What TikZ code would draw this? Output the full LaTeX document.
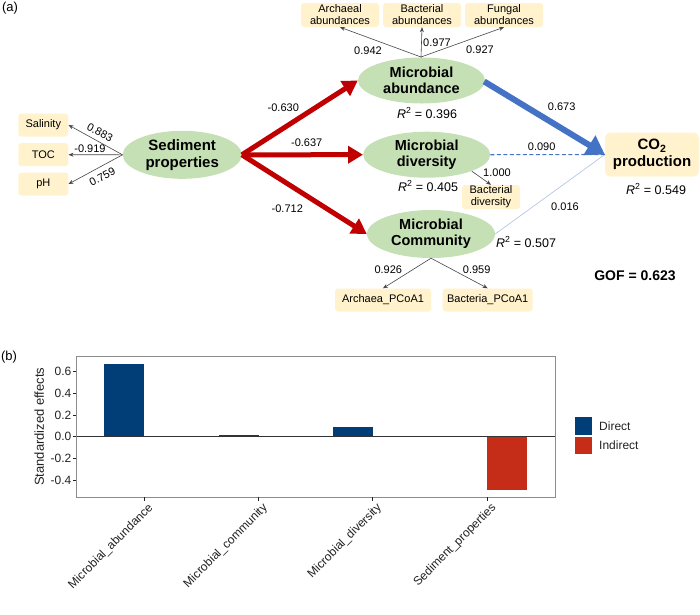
\documentclass[tikz,border=0pt]{standalone}
\usepackage{fontspec}
\setmainfont{Liberation Sans}
\usetikzlibrary{arrows.meta,shapes.geometric,calc}
\definecolor{boxY}{HTML}{FFF2CC}
\definecolor{latG}{HTML}{C5E0B4}
\definecolor{redA}{HTML}{C00000}
\definecolor{blueA}{HTML}{4472C4}
\definecolor{blueL}{HTML}{B4C7E7}
\definecolor{barB}{HTML}{013E78}
\definecolor{barR}{HTML}{C52D19}
\definecolor{lineG}{HTML}{454545}
\definecolor{txtG}{HTML}{222222}
\begin{document}
\begin{tikzpicture}[x=1pt,y=-1pt,
  ind/.style={rounded corners=3pt, fill=boxY, draw=none, align=center, inner sep=0pt,
    font=\fontsize{11}{12}\selectfont, minimum height=24pt},
  lat/.style={ellipse, fill=latG, draw=none, align=center, inner sep=0pt,
    font=\bfseries\fontsize{14.5}{16}\selectfont, minimum width=127pt, minimum height=46pt},
  lab/.style={inner sep=0pt, font=\fontsize{11}{12}\selectfont},
  rsq/.style={inner sep=0pt, font=\fontsize{12.5}{14}\selectfont},
  thinarr/.style={draw=lineG, line width=0.6pt, -{Stealth[length=5pt,width=4pt]}},
  redarr/.style={draw=redA, line width=5pt, -{Triangle[length=15pt,width=17pt]}},
  tick/.style={draw=txtG, line width=0.6pt},
  axl/.style={inner sep=0pt, text=txtG, font=\fontsize{12}{13}\selectfont}
]
\useasboundingbox (0,0) rectangle (700,614);

% ---------------- panel (a) ----------------
\node[inner sep=0pt, font=\fontsize{13}{14}\selectfont] (pa) at (10,8) {(a)};

\node[ind, minimum width=78pt] (arch) at (340,15) {Archaeal\\abundances};
\node[ind, minimum width=78pt] (bact) at (422,15) {Bacterial\\abundances};
\node[ind, minimum width=78pt] (fung) at (504,15) {Fungal\\abundances};

\node[ind, minimum width=50pt, minimum height=23pt] (sal) at (43.3,125) {Salinity};
\node[ind, minimum width=50pt, minimum height=23pt] (toc) at (43.3,154.7) {TOC};
\node[ind, minimum width=50pt, minimum height=23pt] (ph) at (43.3,184) {pH};

\node[lat, minimum width=119pt, minimum height=48pt, font=\bfseries\fontsize{15}{17}\selectfont] (sed) at (182.2,154.8) {Sediment\\properties};
\node[lat] (abund) at (421.5,80.5) {Microbial\\abundance};
\node[lat] (div) at (426.7,154.7) {Microbial\\diversity};
\node[lat, minimum width=128pt, minimum height=48pt] (comm) at (431,234) {Microbial\\Community};

\node[ind, minimum width=58pt] (bdiv) at (491,197) {Bacterial\\diversity};
\node[ind, minimum width=96pt, minimum height=23pt] (archp) at (383,300) {Archaea\_PCoA1};
\node[ind, minimum width=90pt, minimum height=23pt] (bactp) at (487.7,300) {Bacteria\_PCoA1};

\node[rounded corners=5pt, fill=boxY, align=center, inner sep=0pt, minimum width=94pt, minimum height=44pt,
  font=\bfseries\fontsize{15}{17}\selectfont] (co2) at (652,154.5) {CO\textsubscript{2}\\production};

% R2 labels
\node[rsq] (r1) at (427,113) {\textit{R}\textsuperscript{2} = 0.396};
\node[rsq] (r2) at (428,186) {\textit{R}\textsuperscript{2} = 0.405};
\node[rsq] (r3) at (526,242) {\textit{R}\textsuperscript{2} = 0.507};
\node[rsq] (r4) at (656,189) {\textit{R}\textsuperscript{2} = 0.549};
\node[inner sep=0pt, font=\bfseries\fontsize{14}{16}\selectfont] (gof) at (635,276) {GOF = 0.623};

% indicator arrows
\coordinate (topo) at (421,57);
\draw[draw=lineG, line width=0.6pt] (abund.north) -- (topo);
\draw[thinarr] (topo) -- (arch.south);
\draw[thinarr] (topo) -- (bact.south);
\draw[thinarr] (topo) -- (fung.south);
\node[lab] (l942) at (368,50.7) {0.942};
\node[lab] (l977) at (437,42.3) {0.977};
\node[lab] (l927) at (480,49.3) {0.927};

\draw[thinarr] (sed.west) -- (sal.east);
\draw[thinarr] (sed.west) -- (toc.east);
\draw[thinarr] (sed.west) -- (ph.east);
\node[lab, rotate=-28] (l883) at (100,132.7) {0.883};
\node[lab] (l919) at (90,148.5) {-0.919};
\node[lab, rotate=28] (l759) at (102.3,176.5) {0.759};

\draw[thinarr] (div.south east) -- (bdiv.north);
\node[lab] (l1000) at (497,172.7) {1.000};

\draw[thinarr] (comm.south) -- (archp.north);
\draw[thinarr] (comm.south) -- (bactp.north);
\node[lab] (l926) at (388.3,270) {0.926};
\node[lab] (l959) at (476.7,270) {0.959};

% structural paths
\draw[redarr] (sed.east) -- (abund.west);
\draw[redarr] (sed.east) -- (div.west);
\draw[redarr] (sed.east) -- (comm.west);
\node[lab] (l630) at (283.3,107.3) {-0.630};
\node[lab] (l637) at (306.7,142.7) {-0.637};
\node[lab] (l712) at (287.3,208.3) {-0.712};

\draw[blueL, line width=0.7pt] (comm.east) -- (co2.west);
\draw[blueA, line width=1.1pt, dash pattern=on 4pt off 2.5pt] (div.east) -- (co2.west);
\draw[blueA, line width=6pt, -{Triangle[length=18pt,width=22pt]}] ($(abund.east)+(-1,1)$) -- (co2.west);
\node[lab] (l673) at (561.7,106.7) {0.673};
\node[lab] (l090) at (541.7,146.7) {0.090};
\node[lab] (l016) at (565,206.7) {0.016};

% ---------------- panel (b) ----------------
\node[inner sep=0pt, font=\fontsize{13}{14}\selectfont] (pb) at (9,357) {(b)};

\fill[barB] (104.3,363.7) rectangle (144.3,436.7);
\fill[barB] (218.7,434.96) rectangle (258.7,436.7);
\fill[barB] (332.7,426.9) rectangle (372.7,436.7);
\fill[barR] (487.3,436.7) rectangle (527.3,490.2);

\draw[black!80, line width=1.1pt] (76,436.7) -- (555.7,436.7);
\draw[black!45, line width=0.9pt] (76,356) rectangle (555.7,497.3);

\foreach \v [count=\i] in {0.6,0.4,0.2,0.0,-0.2,-0.4} {
  \draw[tick] (72.8,{436.7-108.5*\v}) -- (76,{436.7-108.5*\v});
  \node[axl, anchor=east] (yt\i) at (71.5,{436.7-108.5*\v}) {\v};
}
\node[inner sep=0pt, rotate=90, font=\fontsize{13}{14}\selectfont, text=txtG] (ytitle) at (39.3,426.7) {Standardized effects};

\foreach \x/\t [count=\i] in {144.3/Microbial\_abundance, 258.7/Microbial\_community, 372.7/Microbial\_diversity, 487.3/Sediment\_properties} {
  \draw[tick] (\x,497.3) -- (\x,500.5);
  \node[axl, rotate=45, anchor=north east] (xt\i) at ({\x+3},502) {\t};
}

\fill[barB] (575,417.3) rectangle (592.3,434.7);
\fill[barR] (575,436.7) rectangle (592.3,454);
\node[axl, anchor=west] (lgd) at (599,426) {Direct};
\node[axl, anchor=west] (lgi) at (599,445.3) {Indirect};
\end{tikzpicture}
\end{document}
